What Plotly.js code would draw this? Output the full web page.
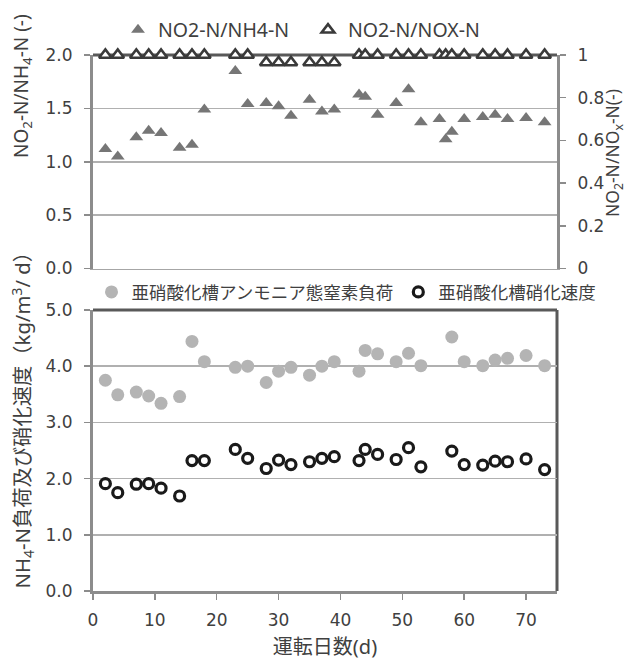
<!DOCTYPE html>
<html>
<head>
<meta charset="utf-8">
<script src="https://cdn.plot.ly/plotly-3.0.1.min.js"></script>
<style>html,body{margin:0;padding:0;background:#fff;}#chart{width:629px;height:660px;}</style>
</head>
<body>
<div id="chart"></div>
<script>
// Top chart data
const daysTop = [2,4,7,9,11,14,16,18,23,25,28,30,32,35,37,39,43,44,46,49,51,53,56,57,58,60,63,65,67,70,73];
const ratioNH4 = [1.12,1.05,1.23,1.29,1.27,1.13,1.16,1.49,1.85,1.54,1.55,1.52,1.43,1.58,1.47,1.49,1.63,1.61,1.44,1.55,1.68,1.37,1.40,1.21,1.28,1.40,1.42,1.44,1.40,1.41,1.37];
const ratioNOX = [1,1,1,1,1,1,1,1,1,1,0.965,0.965,0.965,0.965,0.965,0.965,1,1,1,1,1,1,1,1,1,1,1,1,1,1,1];
// Bottom chart data
const daysBot = [2,4,7,9,11,14,16,18,23,25,28,30,32,35,37,39,43,44,46,49,51,53,58,60,63,65,67,70,73];
const nh4Load = [3.75,3.49,3.54,3.47,3.34,3.46,4.44,4.08,3.98,4.00,3.71,3.91,3.98,3.84,4.00,4.08,3.91,4.28,4.22,4.08,4.23,4.01,4.52,4.08,4.01,4.11,4.14,4.19,4.01];
const nitrRate = [1.91,1.75,1.90,1.91,1.83,1.69,2.32,2.32,2.52,2.36,2.18,2.33,2.25,2.30,2.36,2.39,2.32,2.52,2.43,2.34,2.55,2.21,2.49,2.25,2.24,2.31,2.30,2.35,2.16];
const names = ['NO2-N/NH4-N','NO2-N/NOX-N','亜硝酸化槽アンモニア態窒素負荷','亜硝酸化槽硝化速度'];
const xTicks = [0,10,20,30,40,50,60,70];
const titles = {
  yTop:'NO<sub>2</sub>-N/NH<sub>4</sub>-N (-)',
  yRight:'NO<sub>2</sub>-N/NO<sub>x</sub>-N(-)',
  yBot:'NH<sub>4</sub>-N負荷及び硝化速度（kg/m<sup>3</sup>/ d）',
  x:'運転日数(d)'
};

const W = 629, H = 660;
const M = {l:10, r:10, t:55, b:69};
const gw = W - M.l - M.r, gh = H - M.t - M.b;
const px = v => (v - M.l) / gw;          // pixel -> paper x
const py = v => (H - M.b - v) / gh;      // pixel -> paper y

const tickFont = {family:'DejaVu Sans, Verdana, sans-serif', size:17, color:'#404040'};
const titleFont = {family:'Noto Sans, Noto Sans CJK JP, sans-serif', size:20, color:'#404040'};
const legFont1 = {family:'Noto Sans, Noto Sans CJK JP, sans-serif', size:19.5, color:'#404040'};
const legFont2 = {family:'Noto Sans CJK JP, sans-serif', size:17.5, color:'#404040'};

const traces = [
  {x:daysTop, y:ratioNH4, name:names[0], type:'scatter', mode:'markers', xaxis:'x', yaxis:'y', cliponaxis:false,
   marker:{symbol:'triangle-up', size:12, color:'#767676'}, legend:'legend'},
  {x:daysTop, y:ratioNOX, name:names[1], type:'scatter', mode:'markers', xaxis:'x', yaxis:'y2', cliponaxis:false,
   marker:{symbol:'triangle-up', size:11, color:'#ffffff', line:{color:'#3a3a3a', width:2.6}}, legend:'legend'},
  {x:daysBot, y:nh4Load, name:names[2], type:'scatter', mode:'markers', xaxis:'x2', yaxis:'y3', cliponaxis:false,
   marker:{symbol:'circle', size:13, color:'#b4b4b4'}, legend:'legend2'},
  {x:daysBot, y:nitrRate, name:names[3], type:'scatter', mode:'markers', xaxis:'x2', yaxis:'y3', cliponaxis:false,
   marker:{symbol:'circle-open', size:10, color:'#1a1a1a', line:{width:3.2}}, legend:'legend2'}
];

const xDom = [px(93), px(557)];
const topDom = [py(268.5), py(55)];
const botDom = [0, py(310)];

const layout = {
  width:W, height:H,
  margin:M,
  paper_bgcolor:'#ffffff', plot_bgcolor:'#ffffff',
  showlegend:true,
  legend:{orientation:'h', x:px(118), xanchor:'left', y:py(30), yanchor:'middle', font:legFont1,
          bgcolor:'rgba(0,0,0,0)', itemwidth:30, entrywidth:145, tracegroupgap:0},
  legend2:{orientation:'h', x:px(91.5), xanchor:'left', y:py(292), yanchor:'middle', font:legFont2,
          bgcolor:'rgba(0,0,0,0)', itemwidth:30, tracegroupgap:0},
  xaxis:{domain:xDom, anchor:'y', range:[0,75], showticklabels:false, ticks:'', showgrid:false, zeroline:false,
         showline:true, linecolor:'#a6a6a6', linewidth:1.5, layer:'below traces', fixedrange:true},
  yaxis:{domain:topDom, anchor:'x', range:[0,2], dtick:0.5, tickformat:'.1f', tickfont:tickFont,
         ticks:'outside', ticklen:6, tickcolor:'#8c8c8c', tickwidth:1.5, ticklabelstandoff:8,
         showline:true, linecolor:'#8c8c8c', linewidth:3, showgrid:true, gridcolor:'#b0b0b0', gridwidth:1.5, zeroline:false,
         layer:'below traces'},
  yaxis2:{overlaying:'y', side:'right', anchor:'x', range:[0,1], dtick:0.2, tickfont:tickFont,
         ticks:'outside', ticklen:6, tickcolor:'#8c8c8c', tickwidth:1.5, ticklabelstandoff:8,
         showline:true, linecolor:'#8c8c8c', linewidth:3, showgrid:false, zeroline:false, layer:'below traces'},
  xaxis2:{domain:xDom, anchor:'y3', range:[0,75], tickvals:xTicks, tickfont:tickFont,
         ticks:'outside', ticklen:6, tickcolor:'#8c8c8c', tickwidth:1.5, ticklabelstandoff:6,
         showline:true, linecolor:'#8c8c8c', linewidth:3, showgrid:false, zeroline:false, layer:'below traces',
         title:{text:titles.x, font:titleFont, standoff:13}},
  yaxis3:{domain:botDom, anchor:'x2', range:[0,5], dtick:1, tickformat:'.1f', tickfont:tickFont,
         ticks:'outside', ticklen:6, tickcolor:'#8c8c8c', tickwidth:1.5, ticklabelstandoff:8,
         showline:true, linecolor:'#8c8c8c', linewidth:3, showgrid:true, gridcolor:'#b0b0b0', gridwidth:1.5, zeroline:false,
         layer:'below traces'},
  annotations:[
    {text:titles.yTop, xref:'paper', yref:'paper', x:px(22), y:py(160), xanchor:'center', yanchor:'bottom',
     textangle:-90, showarrow:false, font:{...titleFont, size:19}},
    {text:titles.yRight, xref:'paper', yref:'paper', x:px(613), y:py(153), xanchor:'center', yanchor:'middle',
     textangle:-90, showarrow:false, font:{...titleFont, size:17.5}},
    {text:titles.yBot, xref:'paper', yref:'paper', x:px(22), y:py(591), xanchor:'center', yanchor:'bottom',
     textangle:-90, showarrow:false, font:{...titleFont, size:20.3}}
  ],
  shapes:[
    {type:'line', xref:'paper', yref:'paper', x0:xDom[0], x1:xDom[1], y0:topDom[1], y1:topDom[1], line:{color:'#595959', width:3}, layer:'below'},
    {type:'line', xref:'paper', yref:'paper', x0:xDom[0], x1:xDom[1], y0:botDom[1], y1:botDom[1], line:{color:'#595959', width:3}, layer:'below'},
    {type:'line', xref:'paper', yref:'paper', x0:xDom[1], x1:xDom[1], y0:0, y1:botDom[1], line:{color:'#595959', width:3}, layer:'below'}
  ]
};

Plotly.newPlot('chart', traces, layout, {displayModeBar:false, staticPlot:true});
</script>
</body>
</html>
